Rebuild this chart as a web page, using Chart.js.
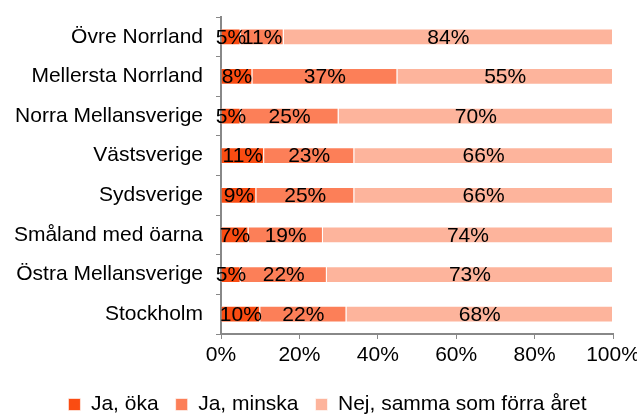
<!DOCTYPE html>
<html>
<head>
<meta charset="utf-8">
<script src="https://cdn.jsdelivr.net/npm/chart.js@4"></script>
<style>
  html, body { margin: 0; padding: 0; background: #fff; }
  #wrap { width: 637px; height: 417px; }
</style>
</head>
<body>
<div id="wrap"><canvas id="barChart"></canvas></div>
<script>
  const regions = [
    'Övre Norrland',
    'Mellersta Norrland',
    'Norra Mellansverige',
    'Västsverige',
    'Sydsverige',
    'Småland med öarna',
    'Östra Mellansverige',
    'Stockholm'
  ];
  const jaOka = [5, 8, 5, 11, 9, 7, 5, 10];
  const jaMinska = [11, 37, 25, 23, 25, 19, 22, 22];
  const nejSamma = [84, 55, 70, 66, 66, 74, 73, 68];
  const xTicks = [0, 20, 40, 60, 80, 100];

  const font = "'Liberation Sans', Arial, sans-serif";

  // writes the percent inside each bar segment
  const barLabels = {
    id: 'barLabels',
    afterDatasetsDraw(chart) {
      const ctx = chart.ctx;
      ctx.save();
      ctx.font = '21px ' + font;
      ctx.fillStyle = '#000';
      ctx.textAlign = 'center';
      ctx.textBaseline = 'middle';
      chart.data.datasets.forEach((ds, i) => {
        chart.getDatasetMeta(i).data.forEach((bar, j) => {
          const x = (bar.x + bar.base) / 2;
          ctx.fillText(ds.data[j] + '%', x, bar.y + 1);
        });
      });
      ctx.restore();
    }
  };

  // nudge the legend down/right a bit, like the original
  const legendShift = {
    id: 'legendShift',
    afterLayout(chart) {
      const lg = chart.legend;
      lg.top += 8; lg.bottom += 8;
      lg.left += 9; lg.right += 9;
    }
  };

  const data = {
    labels: regions,
    datasets: [
      { label: 'Ja, öka', data: jaOka, backgroundColor: 'rgb(250, 76, 18)' },
      { label: 'Ja, minska', data: jaMinska, backgroundColor: 'rgb(252, 127, 88)' },
      { label: 'Nej, samma som förra året', data: nejSamma, backgroundColor: 'rgb(253, 180, 156)' }
    ]
  };
  data.datasets.forEach(ds => {
    ds.borderColor = 'rgba(255,255,255,0.6)';
    ds.borderWidth = 1;
    ds.barPercentage = 0.42;
    ds.categoryPercentage = 1;
  });

  const config = {
    type: 'bar',
    data,
    plugins: [barLabels, legendShift],
    options: {
      indexAxis: 'y',
      responsive: true,
      maintainAspectRatio: false,
      animation: false,
      layout: { padding: { top: 17, right: 0, left: 0, bottom: 0 } },
      scales: {
        x: {
          stacked: true,
          min: 0,
          max: 100,
          afterBuildTicks: s => { s.ticks = xTicks.map(v => ({ value: v })); },
          afterFit: s => { s.height = 35; s.paddingRight = 24; s.paddingLeft = 0; },
          ticks: { callback: v => v + '%', color: '#000', font: { family: font, size: 21 }, padding: 4, maxRotation: 0 },
          grid: { drawOnChartArea: false, color: '#888', tickLength: 5, tickColor: '#888' },
          border: { color: '#888', width: 2 }
        },
        y: {
          stacked: true,
          afterFit: s => { s.width = 221; s.paddingTop = 0; s.paddingBottom = 0; },
          ticks: { color: '#000', font: { family: font, size: 21 }, padding: 13 },
          grid: { drawOnChartArea: false, offset: true, tickLength: 5, tickColor: '#888' },
          border: { color: '#888', width: 2 }
        }
      },
      plugins: {
        legend: {
          position: 'bottom',
          labels: {
            color: '#000',
            font: { family: font, size: 21 },
            boxWidth: 12,
            boxHeight: 12,
            padding: 17
          }
        },
        tooltip: { enabled: false }
      }
    }
  };

  new Chart(document.getElementById('barChart'), config);
</script>
</body>
</html>
